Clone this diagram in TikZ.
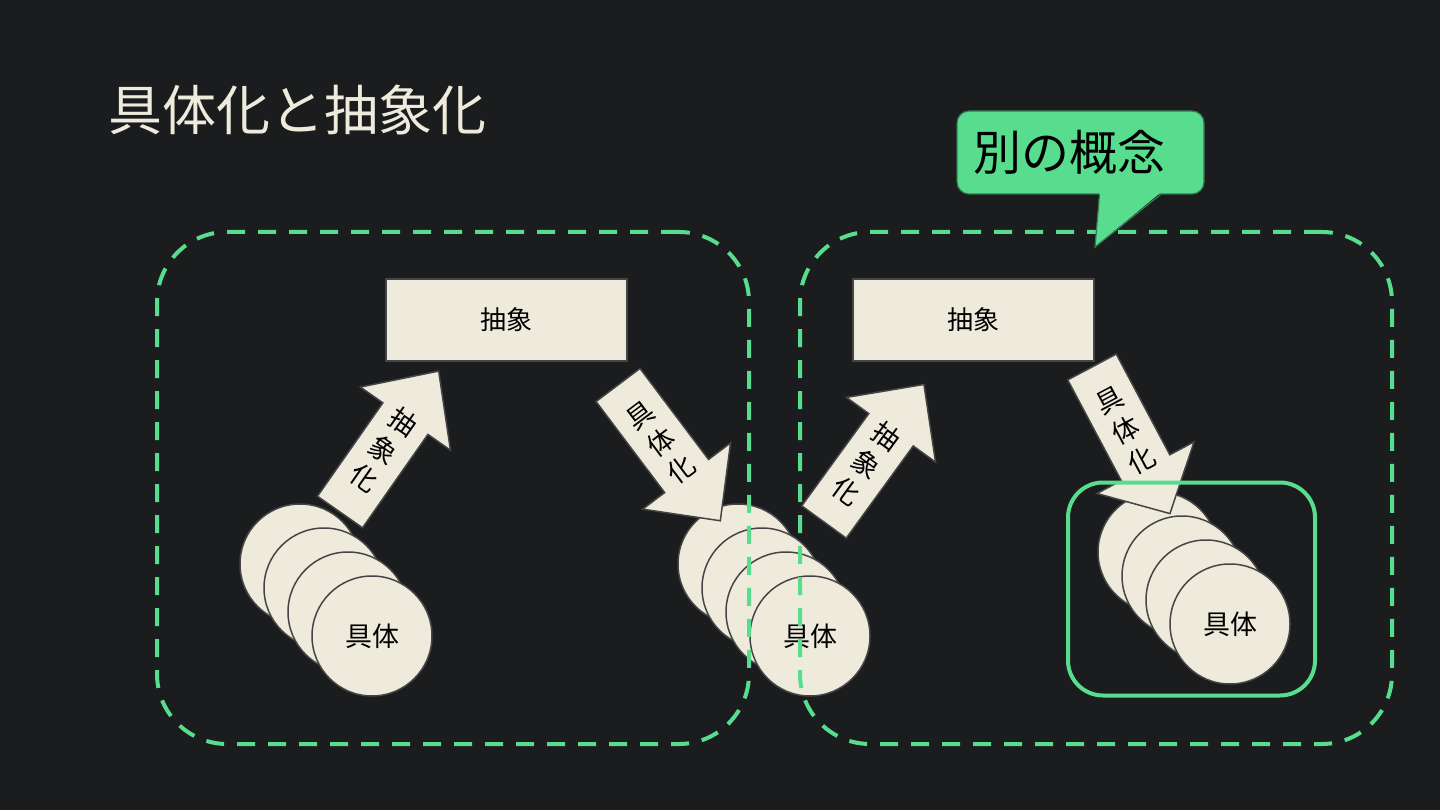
\documentclass[tikz,border=0pt]{standalone}
\usepackage{fontspec}
\setmainfont{Noto Sans CJK JP}
\usepackage{xcolor}
\usetikzlibrary{positioning}

\definecolor{bgdark}{HTML}{1B1C1E}
\definecolor{cream}{HTML}{EEEBDC}
\definecolor{edgegray}{HTML}{454545}
\definecolor{concept}{HTML}{57DD8D}
\definecolor{calloutedge}{HTML}{3A7452}

\begin{document}
\begin{tikzpicture}[
  x=1pt, y=-1pt,
  abstr/.style={draw=edgegray, fill=cream, line width=1.5pt, minimum width=241pt, minimum height=82pt, font=\fontsize{26pt}{30pt}\selectfont},
  inst/.style={circle, draw=edgegray, fill=cream, line width=1.5pt, minimum size=120pt, inner sep=0pt, font=\fontsize{27pt}{30pt}\selectfont},
  blockarr/.style={draw=edgegray, fill=cream, line width=1.5pt},
  arrtext/.style={align=center, inner sep=0pt, font=\fontsize{27pt}{34pt}\selectfont},
  conceptbox/.style={draw=concept, line width=4pt, dash pattern=on 18pt off 13pt, rounded corners=70pt, minimum width=592pt, minimum height=512pt},
  groupbox/.style={draw=concept, line width=4pt, rounded corners=35pt, minimum width=247pt, minimum height=213pt},
  callbox/.style={fill=concept, draw=calloutedge, line width=1.2pt, rounded corners=12pt, minimum height=83pt, text width=215pt, inner xsep=16pt, align=left, font=\fontsize{48pt}{56pt}\selectfont}
]
\fill[bgdark] (0,0) rectangle (1440,810);
\useasboundingbox (0,0) rectangle (1440,810);

\node[anchor=west, inner sep=0pt, text=cream, font=\fontsize{54pt}{60pt}\selectfont] (title) at (108,110) {具体化と抽象化};

% abstractions
\node[abstr] (absA) at (506.5,320) {抽象};
\node[abstr] (absB) at (973.5,320) {抽象};

% instances, back to front
\node[inst] (la1) at (300,564) {};
\node[inst] (la2) at (324,588) {};
\node[inst] (la3) at (348,612) {};
\node[inst] (la4) at (372,636) {具体};
\node[inst] (ma1) at (738,564) {};
\node[inst] (ma2) at (762,588) {};
\node[inst] (ma3) at (786,612) {};
\node[inst] (ma4) at (810,636) {具体};
\node[inst] (ra1) at (1158,552) {};
\node[inst] (ra2) at (1182,576) {};
\node[inst] (ra3) at (1206,600) {};
\node[inst] (ra4) at (1230,624) {具体};

% block arrows
\begin{scope}[shift={(340,512)}, rotate=55]
  \draw[blockarr] (0,-27.5) -- (114,-27.5) -- (114,-55) -- (172,0) -- (114,55) -- (114,27.5) -- (0,27.5) -- cycle;
  \node[arrtext, rotate=-35] (upA) at (76,0) {抽\\象\\化};
\end{scope}
\begin{scope}[shift={(618,385)}, rotate=-53]
  \draw[blockarr] (0,-27.5) -- (114,-27.5) -- (114,-55) -- (170,0) -- (114,55) -- (114,27.5) -- (0,27.5) -- cycle;
  \node[arrtext, rotate=37] (downA) at (72,0) {具\\体\\化};
\end{scope}
\begin{scope}[shift={(824,522)}, rotate=54]
  \draw[blockarr] (0,-27.5) -- (114,-27.5) -- (114,-55) -- (170,0) -- (114,55) -- (114,27.5) -- (0,27.5) -- cycle;
  \node[arrtext, rotate=-36] (upB) at (72,0) {抽\\象\\化};
\end{scope}
\begin{scope}[shift={(1092,367)}, rotate=-62]
  \draw[blockarr] (0,-27.5) -- (114,-27.5) -- (114,-55) -- (166,0) -- (114,55) -- (114,27.5) -- (0,27.5) -- cycle;
  \node[arrtext, rotate=28] (downB) at (72,0) {具\\体\\化};
\end{scope}

% concepts
\node[conceptbox] (conceptA) at (453,488) {};
\node[conceptbox] (conceptB) at (1096,488) {};
\node[groupbox] (group) at (1191.5,589) {};

% callout
\node[callbox] (callout) at (1080.5,152.5) {別の概念};
\coordinate (ptip) at (1095,247);
\fill[concept] ([xshift=19pt, yshift=2pt]callout.south) -- (ptip) -- ([xshift=80pt, yshift=2pt]callout.south) -- cycle;
\draw[calloutedge, line width=1.2pt] ([xshift=19pt]callout.south) -- (ptip) -- ([xshift=80pt]callout.south);
\end{tikzpicture}
\end{document}
